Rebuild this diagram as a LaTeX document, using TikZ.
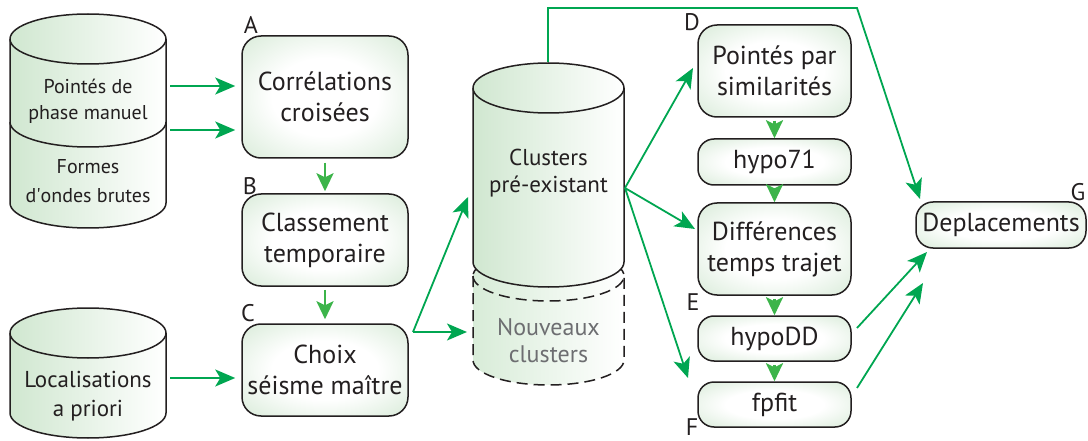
\documentclass[tikz,border=0pt]{standalone}
\usepackage{fontspec}
\setmainfont{PT Sans}
\usetikzlibrary{arrows.meta,calc}
\definecolor{dg}{HTML}{00A651}
\definecolor{lg}{HTML}{3CB44A}
\definecolor{bgr}{HTML}{CDE5CD}
\definecolor{cyl}{HTML}{D0E7D0}
\definecolor{cyll}{HTML}{D8ECD8}
\definecolor{ngray}{HTML}{6D6E71}
\definecolor{ink}{HTML}{231F20}
\pgfdeclareradialshading{boxshade}{\pgfpoint{0bp}{0bp}}{color(0bp)=(white); color(16bp)=(white); color(42bp)=(bgr); color(72bp)=(bgr)}
\tikzset{
  box/.style={draw=ink, line width=1.5pt, rounded corners=19pt, shade, shading=boxshade,
    align=center, inner sep=0pt, text=ink, font=\fontsize{26}{31}\selectfont},
  cyltxt/.style={align=center, inner sep=0pt, text=ink, font=\fontsize{23}{27}\selectfont},
  lab/.style={inner sep=0pt, text=ink, font=\fontsize{24}{26}\selectfont},
  cylline/.style={draw=ink, line width=1.5pt},
  arr/.style={draw=dg, line width=1.8pt, -{Stealth[length=20pt,width=17pt,inset=5pt]}},
  sarr/.style={draw=lg, line width=2.6pt, -{Stealth[length=18pt,width=17pt,inset=4pt]}}
}
\begin{document}
\begin{tikzpicture}[x=1pt,y=-1pt]
\useasboundingbox (0,0) rectangle (1088,441);

% ---- dashed cylinder (new clusters)
\path[left color=cyll, right color=white] (473,276) -- (473,360) arc[start angle=180,end angle=0,x radius=75.5,y radius=25] -- (624,276) arc[start angle=0,end angle=-180,x radius=75.5,y radius=25] -- cycle;
\draw[draw=ink, line width=1.5pt, dash pattern=on 11pt off 6pt] (473,276) arc[start angle=180,end angle=-180,x radius=75.5,y radius=25];
\draw[draw=ink, line width=1.5pt, dash pattern=on 11pt off 6pt] (473,276) -- (473,360) arc[start angle=180,end angle=0,x radius=75.5,y radius=25] -- (624,276);
\node[cyltxt, text=ngray, font=\fontsize{24}{27}\selectfont] (nc) at (548.5,341) {Nouveaux\\clusters};

% ---- big cylinder (existing clusters)
\path[cylline, left color=cyl, right color=white] (473,88) -- (473,262) arc[start angle=180,end angle=0,x radius=75.5,y radius=25] -- (624,88) arc[start angle=0,end angle=-180,x radius=75.5,y radius=25] -- cycle;
\draw[cylline] (473,88) arc[start angle=180,end angle=0,x radius=75.5,y radius=25];
\node[cyltxt] (pc) at (548.5,173) {Clusters\\pré-existant};

% ---- left cylinder 1
\path[cylline, left color=cyl, right color=white] (10,39) -- (10,203) arc[start angle=180,end angle=0,x radius=78,y radius=25] -- (166,39) arc[start angle=0,end angle=-180,x radius=78,y radius=25] -- cycle;
\draw[cylline] (10,39) arc[start angle=180,end angle=0,x radius=78,y radius=25];
\draw[cylline] (10,122) arc[start angle=180,end angle=0,x radius=78,y radius=25];
\node[cyltxt, font=\fontsize{20}{26}\selectfont] (pm) at (88,101) {Pointés de\\phase manuel};
\node[cyltxt, font=\fontsize{20}{29}\selectfont] (fo) at (88,181) {Formes\\d\textquotesingle ondes brutes};

% ---- left cylinder 2
\path[cylline, left color=cyl, right color=white] (10,333) -- (10,413) arc[start angle=180,end angle=0,x radius=78,y radius=25] -- (166,333) arc[start angle=0,end angle=-180,x radius=78,y radius=25] -- cycle;
\draw[cylline] (10,333) arc[start angle=180,end angle=0,x radius=78,y radius=25];
\node[cyltxt, font=\fontsize{23}{29}\selectfont] (lo) at (88,396) {Localisations\\a priori};

% ---- boxes
\node[box, minimum width=166pt, minimum height=122pt] (A) at (325,97) {Corrélations\\croisées};
\node[box, minimum width=166pt, minimum height=92pt] (B) at (325,240) {Classement\\temporaire};
\node[box, minimum width=166pt, minimum height=92pt] (C) at (325,370) {Choix\\séisme maître};
\node[box, minimum width=153pt, minimum height=92pt] (D) at (774.5,71) {Pointés par\\similarités};
\node[box, minimum width=153pt, minimum height=46pt, rounded corners=16pt] (H71) at (774.5,162) {hypo71};
\node[box, minimum width=153pt, minimum height=92pt] (Df) at (774.5,249) {Différences\\temps trajet};
\node[box, minimum width=153pt, minimum height=45pt, rounded corners=16pt] (HDD) at (774.5,338.5) {hypoDD};
\node[box, minimum width=153pt, minimum height=45pt, rounded corners=16pt] (FP) at (774.5,404.5) {fpfit};
\node[box, minimum width=170pt, minimum height=46pt, rounded corners=17pt] (G) at (1001,225) {Deplacements};

% ---- labels
\node[lab] (lA) at (251,25) {A};
\node[lab] (lB) at (250,186) {B};
\node[lab] (lC) at (248,313) {C};
\node[lab] (lD) at (692,22) {D};
\node[lab] (lE) at (693,302) {E};
\node[lab] (lF) at (692,427) {F};
\node[lab] (lG) at (1078,192) {G};

% ---- named connector ends
\coordinate (s1) at (170,86);
\coordinate (s2) at (170,130);
\coordinate (s3) at (170,378);
\coordinate (c0) at (413,332);
\coordinate (bL1) at (468,197);
\coordinate (bL2) at (467,332);
\coordinate (bR) at (625,188);
\coordinate (tD) at (693,68);
\coordinate (tDf) at (695,229);
\coordinate (tFP) at (688,378);
\coordinate (bT) at (548,62);
\coordinate (k1) at (548,8);
\coordinate (k2) at (857,8);
\coordinate (tG1) at (920,199);
\coordinate (sHDD) at (857,328);
\coordinate (tG2) at (927,252);
\coordinate (sFP) at (857,388);
\coordinate (tG3) at (923,283);

% ---- connectors
\draw[arr, shorten >=6pt] (s1) -- (A.west |- s1);
\draw[arr, shorten >=6pt] (s2) -- (A.west |- s2);
\draw[arr, shorten >=6pt] (s3) -- (C.west |- s3);
\draw[sarr, shorten <=4pt, shorten >=2pt] (A.south) -- (B.north);
\draw[sarr, shorten <=3pt, shorten >=4pt] (B.south) -- (C.north);
\draw[arr] (c0) -- (bL1);
\draw[arr] (c0) -- (bL2);
\draw[arr] (bR) -- (tD);
\draw[arr] (bR) -- (tDf);
\draw[arr] (bR) -- (tFP);
\draw[arr] (bT) -- (k1) -- (k2) -- (tG1);
\draw[arr] (sHDD) -- (tG2);
\draw[arr] (sFP) -- (tG3);
\draw[sarr, shorten <=3pt, shorten >=0pt] (D.south) -- (H71.north);
\draw[sarr, shorten <=3pt, shorten >=0pt] (H71.south) -- (Df.north);
\draw[sarr, shorten <=3pt, shorten >=0pt] (Df.south) -- (HDD.north);
\draw[sarr, shorten <=3pt, shorten >=0pt] (HDD.south) -- (FP.north);
\end{tikzpicture}
\end{document}
